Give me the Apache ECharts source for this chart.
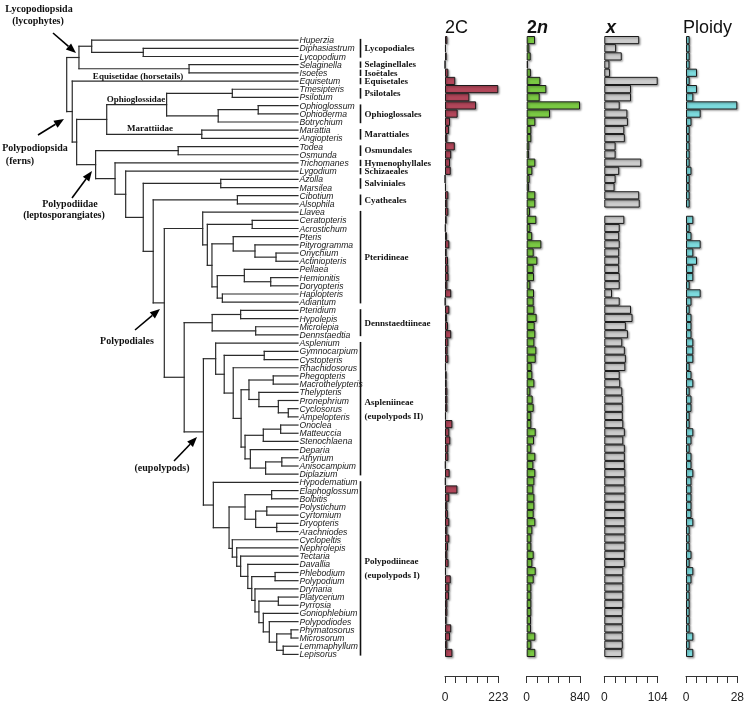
<!DOCTYPE html>
<html><head><meta charset="utf-8">
<script src="https://cdn.jsdelivr.net/npm/echarts@6/dist/echarts.min.js"></script>
<style>html,body{margin:0;padding:0;background:#fff}#c{width:747px;height:704px}</style>
</head><body><div id="c"></div>
<script>
// ---------------- DATA ----------------
const taxa = ['Huperzia','Diphasiastrum','Lycopodium','Selaginella','Isoetes','Equisetum','Tmesipteris','Psilotum',
 'Ophioglossum','Ophioderma','Botrychium','Marattia','Angiopteris','Todea','Osmunda','Trichomanes','Lygodium',
 'Azolla','Marsilea','Cibotium','Alsophila','Llavea','Ceratopteris','Acrostichum','Pteris','Pityrogramma',
 'Onychium','Actiniopteris','Pellaea','Hemionitis','Doryopteris','Haplopteris','Adiantum','Pteridium','Hypolepis',
 'Microlepia','Dennstaedtia','Asplenium','Gymnocarpium','Cystopteris','Rhachidosorus','Phegopteris',
 'Macrothelypteris','Thelypteris','Pronephrium','Cyclosorus','Ampelopteris','Onoclea','Matteuccia','Stenochlaena',
 'Deparia','Athyrium','Anisocampium','Diplazium','Hypodematium','Elaphoglossum','Bolbitis','Polystichum',
 'Cyrtomium','Dryopteris','Arachniodes','Cyclopeltis','Nephrolepis','Tectaria','Davallia','Phlebodium',
 'Polypodium','Drynaria','Platycerium','Pyrrosia','Goniophlebium','Polypodiodes','Phymatosorus','Microsorum',
 'Lemmaphyllum','Lepisorus'];

// tree pieces: "(A,B)d" where d = relative node depth (root 0, tips 1)
const cladeLyco = "((Huperzia,(Diphasiastrum,Lycopodium)0.331)0.108,(Selaginella,Isoetes)0.529)0.053";
const cladeOphMar = "(((Tmesipteris,Psilotum)0.716,((Ophioglossum,Ophioderma)0.828,Botrychium)0.655)0.432,(Marattia,Angiopteris)0.584)0.173";
const cladePterid = "(Llavea,((Ceratopteris,Acrostichum)0.802,((Pteris,(Pityrogramma,(Onychium,Actiniopteris)0.905)0.814)0.720,((Pellaea,(Hemionitis,Doryopteris)0.882)0.768,(Haplopteris,Adiantum)0.673)0.651)0.628)0.608)0.588";
const cladeDenn = "((Pteridium,Hypolepis)0.752,(Microlepia,Dennstaedtia)0.817)0.629";
const cladeEupII = "(Asplenium,((Gymnocarpium,Cystopteris)0.854,(Rhachidosorus,(((Phegopteris,Macrothelypteris)0.893,(Thelypteris,(Pronephrium,(Cyclosorus,Ampelopteris)0.958)0.915)0.831)0.788,(((Onoclea,Matteuccia)0.925,Stenochlaena)0.850,(Deparia,((Athyrium,Anisocampium)0.930,Diplazium)0.860)0.794)0.771)0.754)0.720)0.681)0.644";
const cladeEupI = "(Hypodematium,(((Elaphoglossum,Bolbitis)0.886,((Polystichum,Cyrtomium)0.865,(Dryopteris,Arachniodes)0.908)0.817)0.771,(Cyclopeltis,(Nephrolepis,(Tectaria,(Davallia,((Phlebodium,Polypodium)0.901,(Drynaria,((Platycerium,Pyrrosia)0.915,(Goniophlebium,(Polypodiodes,((Phymatosorus,Microsorum)0.970,(Lemmaphyllum,Lepisorus)0.936)0.908)0.876)0.850)0.831)0.814)0.800)0.783)0.752)0.735)0.716)0.702)0.634";
const treeNewick = "(" + cladeLyco + ",(Equisetum,(" + cladeOphMar +
  ",((Todea,Osmunda)0.482,(Trichomanes,(Lygodium,((Azolla,Marsilea)0.666,((Cibotium,Alsophila)0.738,(" +
  cladePterid + ",(" + cladeDenn + ",(" + cladeEupII + "," + cladeEupI +
  ")0.591)0.508)0.422)0.374)0.331)0.255)0.209)0.125)0.043)0.024)0";

const genome2C = [10,4,7,0.5,14,43,223,102,130,53,21,17,10,41,26,21,24,0.6,4,
 14,10,14,7,3,8,18,7,12.5,14,15,10,26,1.5,18,8,12.5,26,14,
 11,14,4,7,7,10,10,10,4,31,18,22,14,14,3,19.5,3,52,18,
 10,12,18,10,18,12.5,10,15,4,24,18,17,10,10,7,26,21,10,31];
const chrom2n = [131,42,63,21,66,216,310,205,840,367,136,73,73,42,37,136,89,47,37,
 136,136,52,152,58,87,231,110,168,110,115,58,115,110,121,157,126,136,121,
 152,142,79,89,121,58,94,110,73,73,142,115,73,136,105,136,121,105,121,
 121,110,136,89,73,73,110,89,142,110,73,73,73,73,68,68,136,73,136];
const baseX = [68,23,34,10,11,104,52,52,30,45,46,39,40,22,22,72,29,22,20,
 68,69,null,39,30,29,30,29,29,29,30,30,15,30,52,55,42,46,35,
 40,42,41,30,31,35,36,36,36,37,40,37,40,40,40,41,40,41,41,
 41,41,41,41,41,41,40,40,37,37,37,37,37,36,36,36,36,36,35];
const ploidy = [2,2,2,2,6,2,6,4,28,8,3,2,2,2,2,2,3,2,2,
 2,2,null,4,2,3,8,4,6,4,4,2,8,3,2,3,3,3,4,
 4,4,2,3,4,2,3,3,2,2,4,3,2,3,3,4,3,3,3,
 3,3,4,2,2,2,3,2,4,3,2,2,2,2,2,2,4,2,4];
const axisMaxes = [223, 840, 104, 28];

const orderNames = ['Lycopodiales','Selaginellales','Isoëtales','Equisetales','Psilotales','Ophioglossales',
 'Marattiales','Osmundales','Hymenophyllales','Schizaeales','Salviniales','Cyatheales','Pteridineae',
 'Dennstaedtiineae','Aspleniineae\n(eupolypods II)','Polypodiineae\n(eupolypods I)'];
const orderFirst = [0,3,4,5,6,8,11,13,15,16,17,19,21,33,37,54];
const orderLast  = [2,3,4,5,7,10,12,14,15,16,18,20,32,36,53,75];

// ---------------- TREE PARSE ----------------
function parseTree(str){
  const s = str.replace(/\s+/g,''); let i = 0;
  function node(){
    if (s[i] === '('){
      i++; const children = [node()];
      while (s[i] === ','){ i++; children.push(node()); }
      i++;
      let num = ''; while (i < s.length && /[0-9.]/.test(s[i])) num += s[i++];
      return {children, depth: parseFloat(num)};
    }
    let name = ''; while (i < s.length && !/[,()]/.test(s[i])) name += s[i++];
    return {name, depth: 1};
  }
  return node();
}
const segments = [];
function layout(n){
  if (!n.children){ n.y = taxa.indexOf(n.name); return; }
  n.children.forEach(layout);
  const ys = n.children.map(c => c.y);
  n.y = (ys[0] + ys[ys.length-1]) / 2;
  segments.push([n.depth, ys[0], n.depth, ys[ys.length-1]]);
  n.children.forEach(c => segments.push([n.depth, c.y, c.depth, c.y]));
}
layout(parseTree(treeNewick));

// ---------------- LAYOUT ----------------
const TOP = 36, HGT = 622.5;
const panelLeft = [445, 526.7, 604.3, 686];
const panelWidth = [53.3, 53.3, 53.4, 52.3];
const panelColor = ['#b2465a', '#7ac943', '#cccccc', '#7cdadd'];
const panelData = [genome2C, chrom2n, baseX, ploidy];

const grids = [{left: 66.7, top: TOP, width: 231.3, height: HGT}];
const xAxes = [{gridIndex:0, type:'value', min:0, max:1, show:false}];
const yAxes = [{gridIndex:0, type:'value', min:-0.5, max:75.5, inverse:true, show:false}];
const series = [];

series.push({
  type:'custom', xAxisIndex:0, yAxisIndex:0, clip:false, silent:true,
  data: segments,
  renderItem: (p, api) => {
    const a = api.coord([api.value(0), api.value(1)]);
    const b = api.coord([api.value(2), api.value(3)]);
    return {type:'line', shape:{x1:a[0], y1:a[1], x2:b[0], y2:b[1]},
      style:{stroke:'#2b2b2b', lineWidth:1.2, lineCap:'square'}};
  }
});
series.push({
  type:'custom', xAxisIndex:0, yAxisIndex:0, clip:false, silent:true,
  data: taxa.map((t, i) => [1, i]),
  renderItem: (p, api) => {
    const c = api.coord([api.value(0), api.value(1)]);
    return {type:'text', x: c[0] + 1.5, y: c[1] + 0.3, scaleX: 0.88,
      style:{text: taxa[p.dataIndex], font:'italic 9.8px "Liberation Sans"', fill:'#1a1a1a',
        align:'left', verticalAlign:'middle'}};
  }
});
series.push({
  type:'custom', xAxisIndex:0, yAxisIndex:0, clip:false, silent:true,
  data: orderNames.map((n, k) => [1, orderFirst[k], orderLast[k]]),
  renderItem: (p, api) => {
    const a = api.coord([1, api.value(1)]);
    const b = api.coord([1, api.value(2)]);
    const single = api.value(1) === api.value(2);
    const pad = single ? 3.2 : 1.2;
    const x = a[0] + 62.5;
    return {type:'group', children:[
      {type:'line', shape:{x1:x, y1:a[1]-pad, x2:x, y2:b[1]+pad}, style:{stroke:'#111', lineWidth:1.6}},
      {type:'text', x: x + 4, y: (a[1]+b[1])/2 + 0.5,
        style:{text: orderNames[p.dataIndex], font:'bold 9px "Liberation Serif"', fill:'#111',
          align:'left', verticalAlign:'middle', lineHeight:14}}
    ]};
  }
});

for (let k = 0; k < 4; k++){
  const gi = k + 1, M = axisMaxes[k];
  grids.push({left: panelLeft[k], top: TOP, width: panelWidth[k], height: HGT});
  xAxes.push({gridIndex: gi, type:'value', min:0, max:M, interval: M/5, position:'bottom', offset:19,
    axisLine:{show:true, lineStyle:{color:'#333', width:1}},
    axisTick:{show:true, length:7, lineStyle:{color:'#333', width:1}},
    splitLine:{show:false},
    axisLabel:{show:true, margin:16, fontSize:12, color:'#222', fontFamily:'Liberation Sans',
      showMinLabel:true, showMaxLabel:true,
      formatter: v => (v === 0 ? '0' : (Math.abs(v - M) < 0.01 ? String(M) : ''))}});
  yAxes.push({gridIndex: gi, type:'category', data: taxa, inverse:true, show:false});
  series.push({type:'bar', xAxisIndex: gi, yAxisIndex: gi, data: panelData[k].map(v => v === null ? '-' : v),
    barCategoryGap:'0%', silent:true,
    itemStyle:{color: panelColor[k], borderColor:'#1a1a1a', borderWidth:1,
      shadowColor:'rgba(0,0,0,0.35)', shadowBlur:2, shadowOffsetX:1.2, shadowOffsetY:1.2}});
}

// ---------------- ANNOTATIONS ----------------
function arrow(x1, y1, x2, y2){
  const dx = x2 - x1, dy = y2 - y1, L = Math.hypot(dx, dy), ux = dx / L, uy = dy / L;
  const hl = 10, hw = 4;
  const bx = x2 - ux * hl, by = y2 - uy * hl;
  return {type:'group', children:[
    {type:'line', shape:{x1, y1, x2: bx, y2: by}, style:{stroke:'#000', lineWidth:1.6}},
    {type:'polygon', shape:{points:[[x2, y2], [bx - uy*hw, by + ux*hw], [bx + uy*hw, by - ux*hw]]}, style:{fill:'#000'}}
  ]};
}
function lab(text, x, y, size){
  return {type:'text', x, y, style:{text, font:'bold ' + (size||9) + 'px "Liberation Serif"', fill:'#111',
    align:'center', verticalAlign:'middle'}};
}
const graphics = [
  lab('Lycopodiopsida', 39, 9, 10), lab('(lycophytes)', 38, 21, 10),
  arrow(53, 33, 76, 53),
  lab('Equisetidae (horsetails)', 138, 77, 9),
  lab('Ophioglossidae', 136, 100, 9),
  lab('Marattiidae', 150, 129, 9),
  lab('Polypodiopsida', 35, 148, 10), lab('(ferns)', 20, 161, 10),
  arrow(38, 135, 64, 119),
  arrow(72, 198, 92, 171),
  lab('Polypodiidae', 70, 204, 10), lab('(leptosporangiates)', 64, 215, 10),
  arrow(135, 330, 160, 309),
  lab('Polypodiales', 127, 341, 10),
  arrow(174, 461, 197, 437),
  lab('(eupolypods)', 162, 468, 10),
  {type:'text', x:445, y:28, style:{text:'2C', font:'18px "Liberation Sans"', fill:'#111', align:'left', verticalAlign:'middle'}},
  {type:'text', x:527, y:28, style:{text:'{a|2}{b|n}', align:'left', verticalAlign:'middle',
    rich:{a:{font:'bold 18px "Liberation Sans"', fill:'#111'}, b:{font:'italic bold 18px "Liberation Sans"', fill:'#111'}}}},
  {type:'text', x:606, y:28, style:{text:'x', font:'italic bold 18px "Liberation Sans"', fill:'#111', align:'left', verticalAlign:'middle'}},
  {type:'text', x:683, y:28, style:{text:'Ploidy', font:'18px "Liberation Sans"', fill:'#111', align:'left', verticalAlign:'middle'}}
];

const chart = echarts.init(document.getElementById('c'));
chart.setOption({
  animation:false, backgroundColor:'#fff',
  grid: grids, xAxis: xAxes, yAxis: yAxes, series, graphic: graphics
});
</script></body></html>
